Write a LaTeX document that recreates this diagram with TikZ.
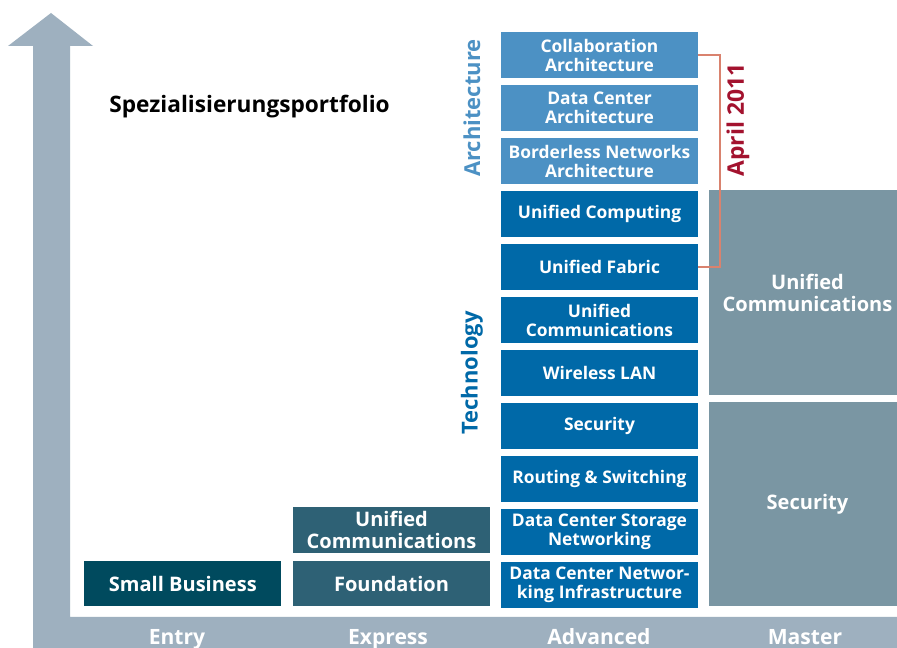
\documentclass[tikz,border=0pt]{standalone}
\usepackage{fontspec}
\setmainfont{Open Sans}
\usetikzlibrary{positioning}
\definecolor{arrowgray}{rgb}{0.62, 0.69, 0.75}
\definecolor{entryteal}{rgb}{0.0, 0.29, 0.37}
\definecolor{expressteal}{rgb}{0.18, 0.38, 0.46}
\definecolor{techblue}{rgb}{0.0, 0.41, 0.66}
\definecolor{archblue}{rgb}{0.30, 0.57, 0.77}
\definecolor{mastergray}{rgb}{0.48, 0.59, 0.64}
\definecolor{bracketred}{rgb}{0.85, 0.51, 0.43}
\definecolor{aprilred}{rgb}{0.64, 0.07, 0.18}
\tikzset{
  box/.style={minimum width=3.94cm, minimum height=0.92cm, inner sep=0pt,
    text=white, align=center, font=\bfseries\fontsize{11.4}{12.5}\selectfont},
  advbox/.style={box, font=\bfseries\fontsize{9.9}{10.8}\selectfont},
  masterbox/.style={box, fill=mastergray},
  axislabel/.style={text=white, inner sep=0pt, font=\bfseries\fontsize{12}{12}\selectfont},
}

\begin{document}
\begin{tikzpicture}[x=0.02cm, y=-0.02cm]
      \fill [white] (0,0) rectangle (897,648);
      \useasboundingbox (0,0) rectangle (897,648);

      % arrow and base bar
      \fill [arrowgray] (33,648) -- (33,46) -- (8,46) -- (51,13) -- (93,46)
        -- (70,46) -- (70,617) -- (897,617) -- (897,648) -- cycle;

      \node [anchor=west, inner sep=0pt, font=\bfseries\fontsize{12.9}{12}\selectfont] (title) at (109,107) {Spezialisierungsportfolio};

      % Entry / Express
      \node [box, fill=expressteal] (found) at (391.5,583.5) {Foundation};
      \node [box, fill=expressteal, above=0.14cm of found] (expuc) {Unified\\Communications};
      \node [box, fill=entryteal, left=0.22cm of found] (smallbiz) {Small Business};

      % Advanced
      \foreach \k/\txt/\col in
      {
        0/{Data Center Networ-\\king Infrastructure}/techblue,
        1/{Data Center Storage\\Networking}/techblue,
        2/{Routing \& Switching}/techblue,
        3/Security/techblue,
        4/Wireless LAN/techblue,
        5/{Unified\\Communications}/techblue,
        6/Unified Fabric/techblue,
        7/Unified Computing/techblue,
        8/{Borderless Networks\\Architecture}/archblue,
        9/{Data Center\\Architecture}/archblue,
        10/{Collaboration\\Architecture}/archblue}
      {
       \node [advbox, fill=\col] (adv\k) at (599.5,{585-53*\k}) {\txt};
      }

      % Master (runs past the right edge)
      \node [masterbox, minimum height=4.1cm] (mastuc) at (807.5,292.5) {Unified\\Communications};
      \node [masterbox, minimum height=4.08cm] (mastsec) at (807.5,504) {Security};

      \node [rotate=90, text=archblue, font=\bfseries\fontsize{12.5}{12}\selectfont] (arch) at (472,108) {Architecture};
      \node [rotate=90, text=techblue, font=\bfseries\fontsize{12.5}{12}\selectfont] (tech) at (472,373) {Technology};

      % April 2011 bracket
      \coordinate (bend) at (720,0);
      \draw [bracketred, line width=1.6pt] (adv10.east) -- (adv10.east -| bend) -- (adv6.east -| bend) -- (adv6.east);
      \node [rotate=90, text=aprilred, font=\bfseries\fontsize{13}{12}\selectfont] (april) at (738,120) {April 2011};

      \foreach \x/\lbl in {177/Entry, 388/Express, 599/Advanced, 805/Master}
      {
       \node [axislabel, anchor=base] (ax\lbl) at (\x,645) {\lbl};
      }
\end{tikzpicture}
\end{document}
